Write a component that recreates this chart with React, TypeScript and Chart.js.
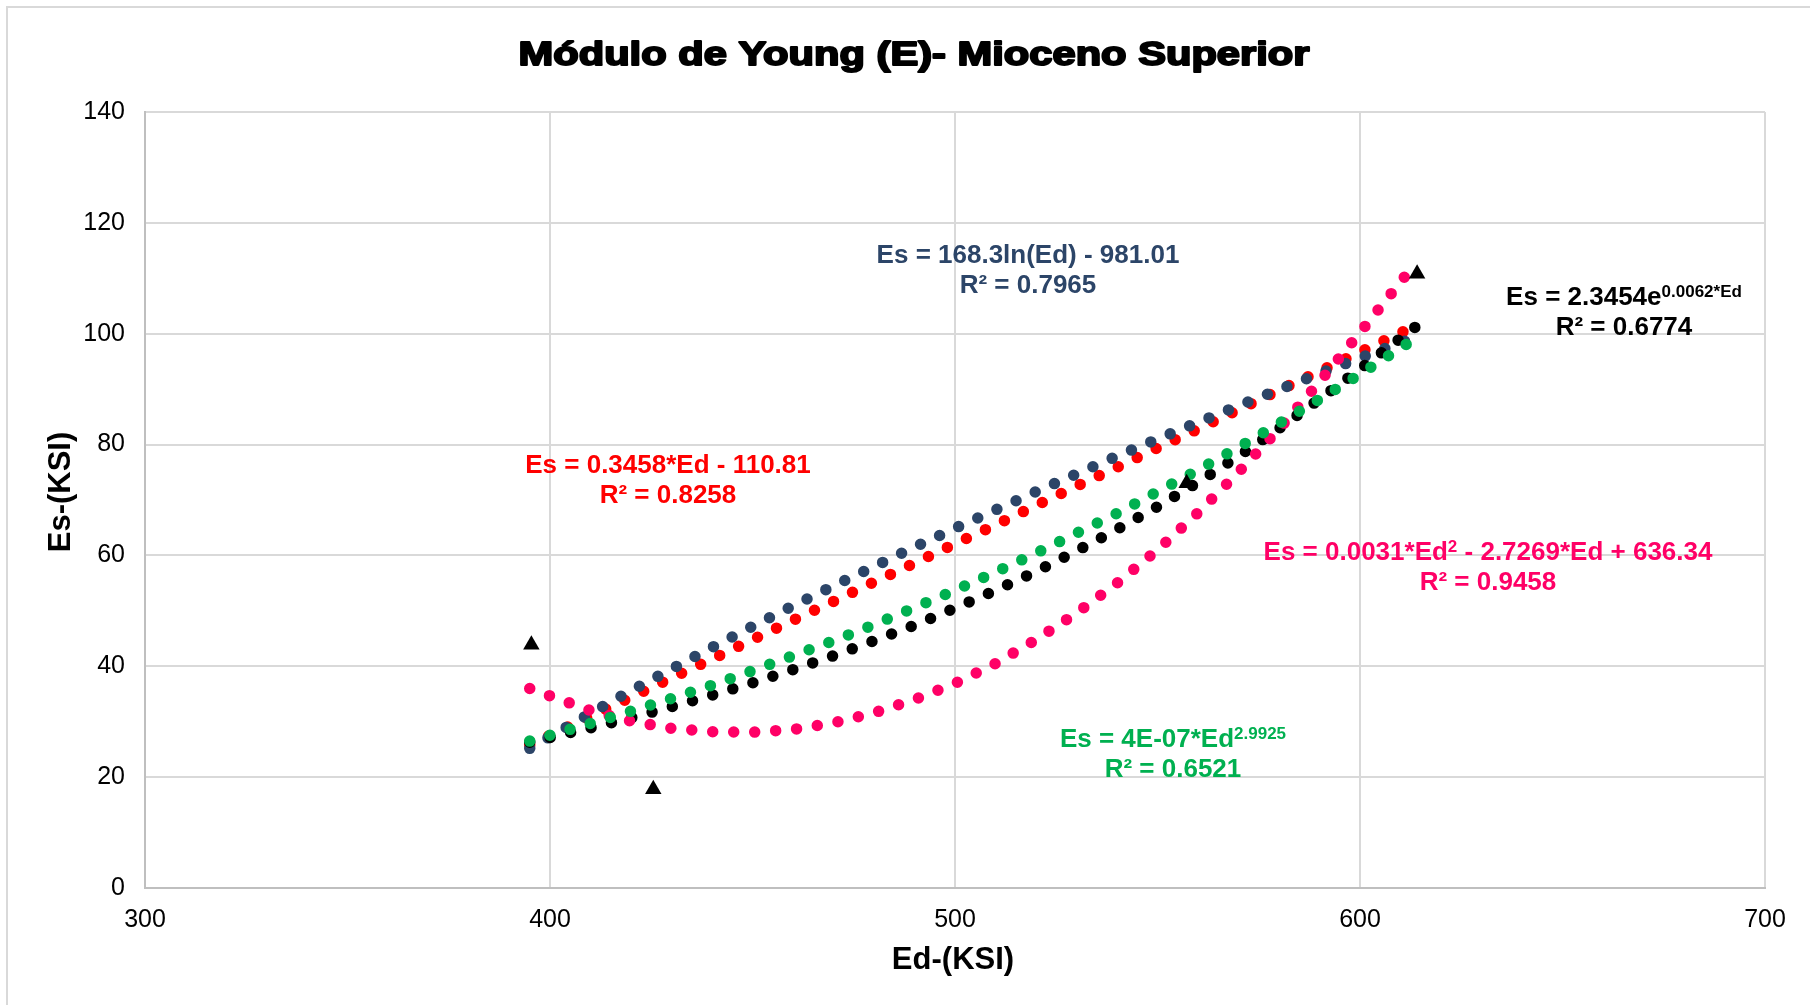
import React, { useEffect, useRef } from 'react';
import { Chart, registerables } from 'chart.js';

Chart.register(...registerables);

// ---------- text ----------
const TITLE = 'Módulo de Young (E)- Mioceno Superior';
const X_TITLE = 'Ed-(KSI)';
const Y_TITLE = 'Es-(KSI)';

// ---------- axes ----------
const X_MIN = 300;
const X_MAX = 700;
const X_STEP = 100;
const Y_MIN = 0;
const Y_MAX = 140;
const Y_STEP = 20;

// ---------- measured data (black triangles) ----------
const dataEd = [395.4, 425.5, 557.2, 614.1];
const dataEs = [43.9, 17.8, 73.0, 110.8];

// ---------- trendlines ----------
const trendEd = [395, 410, 420, 430, 440, 450, 460, 470, 480, 490, 500, 510, 520, 530, 540, 550, 560, 570, 580, 590, 600, 614];
const linearEs = [25.8, 31.0, 34.4, 37.9, 41.3, 44.8, 48.3, 51.7, 55.2, 58.6, 62.1, 65.5, 69.0, 72.5, 75.9, 79.4, 82.8, 86.3, 89.8, 93.2, 96.7, 101.5];
const logEs = [25.2, 31.5, 35.6, 39.5, 43.4, 47.2, 50.9, 54.5, 58.0, 61.5, 64.9, 68.2, 71.5, 74.7, 77.9, 81.0, 84.0, 87.0, 89.9, 92.8, 95.6, 99.5];
const powerEs = [26.5, 29.7, 31.9, 34.2, 36.6, 39.2, 41.9, 44.6, 47.5, 50.6, 53.7, 57.0, 60.4, 64.0, 67.6, 71.5, 75.4, 79.5, 83.8, 88.2, 92.7, 99.3];
const expEs = [26.3, 28.9, 30.7, 32.7, 34.8, 37.0, 39.4, 41.9, 44.6, 47.4, 50.5, 53.7, 57.1, 60.8, 64.7, 68.8, 73.2, 77.9, 82.9, 88.2, 93.6, 101.4];
const polyEs = [36.0, 32.0, 30.1, 28.8, 28.2, 28.1, 28.6, 29.8, 31.6, 34.0, 36.9, 40.5, 44.8, 49.6, 55.0, 61.0, 67.7, 75.0, 82.8, 91.3, 100.2, 113.0];

// ---------- colours ----------
const C_LINEAR = '#FF0000';
const C_LOG = '#2C4568';
const C_POWER = '#00B050';
const C_EXP = '#000000';
const C_POLY = '#FF0066';

// ---------- equation labels ----------
type Part = { t: string; sup?: boolean };
type Label = { color: string; cx: number; base: number; lines: Part[][] };
const LABELS: Label[] = [
  { color: C_LOG, cx: 1028, base: 263, lines: [[{ t: 'Es = 168.3ln(Ed) - 981.01' }], [{ t: 'R² = 0.7965' }]] },
  { color: C_EXP, cx: 1624, base: 305, lines: [[{ t: 'Es = 2.3454e' }, { t: '0.0062*Ed', sup: true }], [{ t: 'R² = 0.6774' }]] },
  { color: C_LINEAR, cx: 668, base: 473, lines: [[{ t: 'Es = 0.3458*Ed - 110.81' }], [{ t: 'R² = 0.8258' }]] },
  { color: C_POLY, cx: 1488, base: 560, lines: [[{ t: 'Es = 0.0031*Ed' }, { t: '2', sup: true }, { t: ' - 2.7269*Ed + 636.34' }], [{ t: 'R² = 0.9458' }]] },
  { color: C_POWER, cx: 1173, base: 747, lines: [[{ t: 'Es = 4E-07*Ed' }, { t: '2.9925', sup: true }], [{ t: 'R² = 0.6521' }]] },
];

const SANS = '"Liberation Sans", Arial, sans-serif';
const NARROW = '"Liberation Sans Narrow", "Arial Narrow", "Liberation Sans", Arial, sans-serif';

const pts = (xs: number[], ys: number[]) => xs.map((x, i) => ({ x, y: ys[i] }));

const trend = (label: string, ys: number[], color: string) => ({
  label,
  data: pts(trendEd, ys),
  showLine: true,
  borderColor: color,
  backgroundColor: color,
  borderWidth: 11.5,
  borderDash: [0, 21],
  borderCapStyle: 'round' as const,
  pointRadius: 0,
  pointHoverRadius: 0,
  fill: false,
  tension: 0,
});

function drawRich(ctx: CanvasRenderingContext2D, parts: Part[], cx: number, base: number, color: string) {
  const mainFont = `bold 26px ${SANS}`;
  const supFont = `bold 17px ${SANS}`;
  let total = 0;
  const widths = parts.map((p) => {
    ctx.font = p.sup ? supFont : mainFont;
    const w = ctx.measureText(p.t).width;
    total += w;
    return w;
  });
  let x = cx - total / 2;
  ctx.fillStyle = color;
  ctx.textAlign = 'left';
  ctx.textBaseline = 'alphabetic';
  parts.forEach((p, i) => {
    ctx.font = p.sup ? supFont : mainFont;
    ctx.fillText(p.t, x, p.sup ? base - 8.5 : base);
    x += widths[i];
  });
}

const textPlugin = {
  id: 'textPlugin',
  beforeDraw(chart: any) {
    const ctx: CanvasRenderingContext2D = chart.ctx;
    ctx.save();
    ctx.fillStyle = '#FFFFFF';
    ctx.fillRect(0, 0, chart.width, chart.height);
    ctx.strokeStyle = '#D9D9D9';
    ctx.lineWidth = 2;
    ctx.beginPath();
    ctx.moveTo(7, chart.height);
    ctx.lineTo(7, 7);
    ctx.lineTo(chart.width, 7);
    ctx.stroke();
    ctx.restore();
  },
  afterDraw(chart: any) {
    const ctx: CanvasRenderingContext2D = chart.ctx;
    ctx.save();
    // title (wide, heavy)
    ctx.font = `bold 34px ${SANS}`;
    const tw = ctx.measureText(TITLE).width;
    ctx.translate(914, 65);
    ctx.scale(791 / tw, 1);
    ctx.fillStyle = '#000';
    ctx.strokeStyle = '#000';
    ctx.lineWidth = 2;
    ctx.lineJoin = 'round';
    ctx.textAlign = 'left';
    ctx.textBaseline = 'alphabetic';
    ctx.fillText(TITLE, -tw / 2, 0);
    ctx.strokeText(TITLE, -tw / 2, 0);
    ctx.restore();

    // axis titles
    ctx.save();
    ctx.font = `bold 31px ${SANS}`;
    ctx.fillStyle = '#000';
    ctx.textAlign = 'center';
    ctx.textBaseline = 'alphabetic';
    ctx.fillText(X_TITLE, 953, 969);
    ctx.translate(70, 492);
    ctx.rotate(-Math.PI / 2);
    ctx.fillText(Y_TITLE, 0, 0);
    ctx.restore();

    // equations
    ctx.save();
    LABELS.forEach((l) => {
      l.lines.forEach((line, i) => drawRich(ctx, line, l.cx, l.base + i * 30, l.color));
    });
    ctx.restore();
  },
};

export default function App() {
  const ref = useRef<HTMLCanvasElement>(null);
  useEffect(() => {
    const canvas = ref.current!;
    const chart = new Chart(canvas, {
      type: 'scatter',
      data: {
        datasets: [
          {
            label: 'Datos',
            data: pts(dataEd, dataEs),
            pointStyle: 'triangle',
            pointRadius: 9.5,
            pointHoverRadius: 9.5,
            backgroundColor: '#000',
            borderColor: '#000',
            borderWidth: 0,
            showLine: false,
          },
          trend('Potencial', powerEs, C_POWER),
          trend('Polinómica', polyEs, C_POLY),
          trend('Exponencial', expEs, C_EXP),
          trend('Logarítmica', logEs, C_LOG),
          trend('Lineal', linearEs, C_LINEAR),
        ] as any,
      },
      options: {
        animation: false,
        responsive: false,
        devicePixelRatio: 1,
        events: [],
        layout: { padding: { top: 112, right: 45, bottom: 0, left: 0 } },
        plugins: {
          legend: { display: false },
          tooltip: { enabled: false },
          title: { display: false },
        },
        scales: {
          x: {
            type: 'linear',
            min: X_MIN,
            max: X_MAX,
            ticks: {
              stepSize: X_STEP,
              padding: 17,
              color: '#000',
              font: { family: NARROW, size: 25 },
            },
            grid: { color: '#D9D9D9', lineWidth: 2, drawTicks: false },
            border: { color: '#BFBFBF', width: 2 },
            afterFit: (s: any) => {
              s.height = 117;
            },
          },
          y: {
            type: 'linear',
            min: Y_MIN,
            max: Y_MAX,
            ticks: {
              stepSize: Y_STEP,
              padding: 20,
              color: '#000',
              font: { family: NARROW, size: 25 },
            },
            grid: { color: '#D9D9D9', lineWidth: 2, drawTicks: false },
            border: { color: '#BFBFBF', width: 2 },
            afterFit: (s: any) => {
              s.width = 145;
            },
          },
        },
      } as any,
      plugins: [textPlugin],
    });
    return () => chart.destroy();
  }, []);
  return (
    <div style={{ position: 'absolute', left: 0, top: 0, width: 1810, height: 1005 }}>
      <canvas ref={ref} width={1810} height={1005} style={{ display: 'block', width: 1810, height: 1005 }} />
    </div>
  );
}
